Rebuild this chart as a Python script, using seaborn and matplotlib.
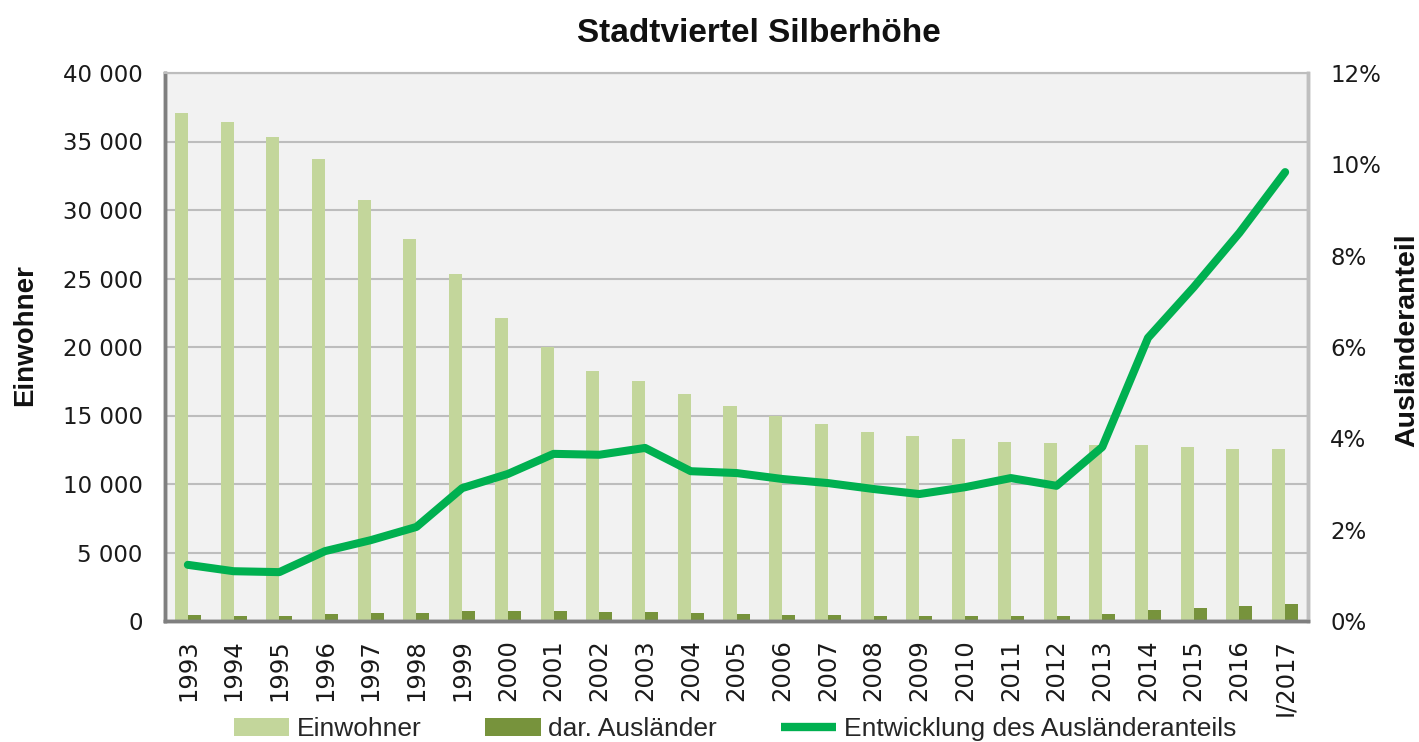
import numpy as np
import pandas as pd
import matplotlib
matplotlib.use("Agg")
import matplotlib.pyplot as plt
import seaborn as sns
from matplotlib import font_manager
from matplotlib.ticker import FuncFormatter, MultipleLocator
from matplotlib.patches import Patch
from matplotlib.lines import Line2D

years = ["1993", "1994", "1995", "1996", "1997", "1998", "1999", "2000", "2001",
         "2002", "2003", "2004", "2005", "2006", "2007", "2008", "2009", "2010",
         "2011", "2012", "2013", "2014", "2015", "2016", "I/2017"]
einwohner = [37100, 36400, 35300, 33700, 30700, 27900, 25300, 22100, 20000,
             18250, 17500, 16550, 15700, 14950, 14350, 13800, 13500, 13250,
             13050, 13000, 12850, 12850, 12700, 12550, 12550]
auslaender = [450, 400, 400, 500, 560, 560, 720, 720, 730,
              660, 660, 550, 500, 460, 430, 380, 370, 380,
              400, 380, 480, 800, 950, 1100, 1250]
anteil = [1.23, 1.09, 1.07, 1.53, 1.77, 2.06, 2.91, 3.22, 3.66,
          3.64, 3.79, 3.28, 3.24, 3.11, 3.02, 2.89, 2.78, 2.93,
          3.13, 2.96, 3.81, 6.20, 7.31, 8.50, 9.83]

series_names = ["Einwohner", "dar. Ausländer", "Entwicklung des Ausländeranteils"]
c_light = "#C3D69B"
c_dark = "#77933C"
c_line = "#00B050"

df = pd.DataFrame({
    "Jahr": years * 2,
    "Wert": einwohner + auslaender,
    "Serie": [series_names[0]] * len(years) + [series_names[1]] * len(years),
})

sns.set_style("white")
plt.rcParams["font.family"] = ["DejaVu Sans"]

installed = {f.name for f in font_manager.fontManager.ttflist}
narrow = "Liberation Sans Narrow" if "Liberation Sans Narrow" in installed else None

fig = plt.figure(figsize=(14.19, 7.42), dpi=100)
ax = fig.add_axes([165 / 1419, 1 - 621 / 742, (1308 - 165) / 1419, (621 - 73) / 742])
ax.set_facecolor("#F2F2F2")

sns.barplot(data=df, x="Jahr", y="Wert", hue="Serie", order=years,
            palette=[c_light, c_dark], width=0.57, gap=0, ax=ax,
            legend=False, saturation=1, zorder=2, edgecolor="none", linewidth=0)
ax.set_ylim(0, 40000)
ax.set_xlim(-0.5, len(years) - 0.5)
ax.yaxis.set_major_locator(MultipleLocator(5000))
ax.yaxis.set_major_formatter(FuncFormatter(lambda v, p: f"{int(v):,}".replace(",", " ")))
ax.grid(axis="y", color="#BDBDBD", linewidth=1.5, zorder=0)
ax.set_axisbelow(True)
ax.set_xlabel("")
ax.set_ylabel("")
ax.tick_params(axis="y", length=0, pad=16, labelsize=16.5, colors="#1a1a1a")
ax.tick_params(axis="x", length=0, pad=13, labelsize=17.5, labelrotation=90, colors="#1a1a1a")

ax2 = ax.twinx()
sns.lineplot(x=np.arange(len(years)), y=anteil, ax=ax2, color=c_line,
             linewidth=5.8, solid_capstyle="round", solid_joinstyle="round", zorder=5)
ax2.set_ylim(0, 12)
ax2.yaxis.set_major_locator(MultipleLocator(2))
ax2.yaxis.set_major_formatter(FuncFormatter(lambda v, p: f"{int(round(v))}%"))
ax2.tick_params(axis="y", length=0, pad=16, labelsize=16.5, colors="#1a1a1a")
ax2.set_ylabel("")
ax2.set_xlim(-0.5, len(years) - 0.5)

for a in (ax, ax2):
    a.spines["left"].set_color("#7F7F7F")
    a.spines["left"].set_linewidth(2.5)
    a.spines["bottom"].set_color("#7F7F7F")
    a.spines["bottom"].set_linewidth(2.5)
    a.spines["right"].set_color("#BFBFBF")
    a.spines["right"].set_linewidth(2.5)
    a.spines["top"].set_color("#BDBDBD")
    a.spines["top"].set_linewidth(1.5)

bold_fam = ["Liberation Sans", "DejaVu Sans"]
fig.text(759 / 1419, 1 - 34 / 742, "Stadtviertel Silberhöhe", ha="center", va="center",
         fontsize=24, fontweight="bold", family=bold_fam, color="#111111")
fig.text(25 / 1419, 1 - 335 / 742, "Einwohner", ha="center", va="center", rotation=90,
         fontsize=20, fontweight="bold", family=bold_fam, color="#111111")
fig.text(1407 / 1419, 1 - 340 / 742, "Ausländeranteil", ha="center", va="center", rotation=90,
         fontsize=20.5, fontweight="bold", family=bold_fam, color="#111111")

handles = [Patch(facecolor=c_light, edgecolor="none"),
           Patch(facecolor=c_dark, edgecolor="none"),
           Line2D([0], [0], color=c_line, linewidth=6, solid_capstyle="butt")]
if narrow:
    leg_prop = {"family": [narrow, "DejaVu Sans"], "size": 21}
else:
    leg_prop = {"family": ["Liberation Sans", "DejaVu Sans"], "size": 19}
fig.legend(handles, series_names, loc="center", bbox_to_anchor=(735 / 1419, 1 - 729 / 742),
           ncol=3, frameon=False, handlelength=2.1, handleheight=0.65, handletextpad=0.3,
           columnspacing=2.4, borderpad=0, prop=leg_prop)

fig.savefig("out.png", dpi=100, facecolor="white")
